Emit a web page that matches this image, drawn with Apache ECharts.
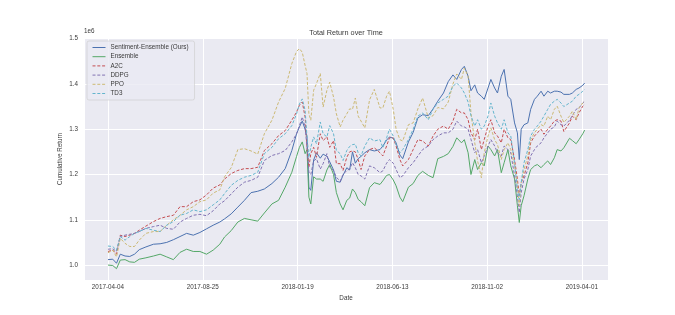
<!DOCTYPE html>
<html>
<head>
<meta charset="utf-8">
<script src="https://cdn.jsdelivr.net/npm/echarts@6/dist/echarts.min.js"></script>
<style>
html,body{margin:0;padding:0;background:#fff;}
#chart{width:675px;height:315px;}
</style>
</head>
<body>
<div id="chart"></div>
<script>
// trading-day index of each sampled point
const days = [
0,5,9,13,18,23,28,33,40,48,
55,62,69,76,83,90,97,104,111,118,
123,130,137,144,151,158,165,173,180,187,
194,199,202,205,208,210,212,214,217,220,
224,227,231,234,238,241,245,248,252,255,
258,261,264,267,271,276,281,287,290,294,
297,301,304,308,311,317,322,327,332,338,
343,348,354,359,364,368,373,376,380,383,
387,390,394,397,401,404,408,411,415,418,
422,425,429,432,434,436,439,443,446,450,
453,457,460,464,467,471,474,478,481,487,
490,494,497,501,503];

const tickLabels = ['2017-04-04','2017-08-25','2018-01-19','2018-06-13','2018-11-02','2019-04-01'];

// cumulative return values (x 1e6)
const sentimentEnsemble = [
1.012,1.013,1.004,1.024,1.020,1.019,1.024,1.034,1.040,1.046,
1.047,1.050,1.056,1.063,1.070,1.066,1.072,1.080,1.088,1.095,
1.102,1.113,1.128,1.143,1.160,1.163,1.168,1.180,1.194,1.213,
1.253,1.290,1.305,1.318,1.300,1.283,1.172,1.165,1.232,1.248,
1.236,1.245,1.240,1.228,1.210,1.185,1.183,1.198,1.215,1.210,
1.250,1.225,1.235,1.240,1.248,1.255,1.252,1.255,1.263,1.276,
1.283,1.280,1.270,1.243,1.235,1.272,1.293,1.325,1.332,1.330,
1.345,1.362,1.380,1.405,1.420,1.410,1.432,1.439,1.417,1.385,
1.398,1.380,1.373,1.366,1.391,1.410,1.391,1.380,1.417,1.432,
1.373,1.366,1.314,1.292,1.233,1.300,1.310,1.314,1.344,1.366,
1.373,1.384,1.373,1.384,1.380,1.384,1.384,1.382,1.377,1.377,
1.380,1.388,1.391,1.397,1.402];

const ensemble = [
1.000,0.999,0.992,1.011,1.012,1.007,1.006,1.013,1.016,1.020,
1.024,1.018,1.012,1.028,1.035,1.030,1.030,1.024,1.033,1.046,
1.062,1.076,1.095,1.103,1.100,1.097,1.115,1.135,1.143,1.172,
1.205,1.240,1.260,1.272,1.246,1.255,1.150,1.135,1.195,1.190,
1.190,1.185,1.210,1.222,1.200,1.160,1.135,1.122,1.143,1.148,
1.168,1.160,1.145,1.140,1.131,1.171,1.182,1.178,1.186,1.198,
1.200,1.188,1.175,1.150,1.140,1.172,1.180,1.198,1.207,1.198,
1.193,1.235,1.240,1.246,1.262,1.281,1.270,1.277,1.248,1.200,
1.233,1.211,1.226,1.219,1.263,1.255,1.241,1.255,1.204,1.226,
1.255,1.219,1.190,1.131,1.094,1.131,1.153,1.190,1.211,1.219,
1.222,1.215,1.222,1.230,1.222,1.237,1.255,1.252,1.259,1.280,
1.275,1.268,1.277,1.290,1.298];

const a2c = [
1.030,1.033,1.024,1.066,1.063,1.066,1.070,1.077,1.086,1.096,
1.103,1.107,1.110,1.129,1.129,1.140,1.144,1.155,1.170,1.177,
1.190,1.202,1.209,1.213,1.213,1.216,1.253,1.268,1.286,1.297,
1.320,1.338,1.353,1.360,1.327,1.260,1.216,1.246,1.260,1.238,
1.290,1.275,1.283,1.260,1.275,1.224,1.224,1.209,1.238,1.250,
1.252,1.250,1.233,1.211,1.241,1.255,1.259,1.248,1.241,1.263,
1.281,1.281,1.263,1.233,1.219,1.233,1.255,1.277,1.274,1.263,
1.285,1.300,1.307,1.300,1.318,1.344,1.336,1.336,1.321,1.292,
1.277,1.300,1.255,1.277,1.307,1.321,1.292,1.285,1.270,1.300,
1.281,1.277,1.233,1.190,1.153,1.182,1.197,1.226,1.270,1.285,
1.292,1.300,1.289,1.300,1.307,1.318,1.321,1.318,1.295,1.314,
1.329,1.321,1.336,1.351,1.355];

const ddpg = [
1.035,1.036,1.030,1.063,1.066,1.068,1.070,1.074,1.081,1.085,
1.088,1.081,1.079,1.095,1.103,1.110,1.112,1.109,1.120,1.135,
1.142,1.157,1.172,1.183,1.187,1.194,1.231,1.242,1.246,1.253,
1.272,1.290,1.308,1.327,1.305,1.260,1.205,1.200,1.230,1.235,
1.212,1.224,1.246,1.216,1.209,1.194,1.185,1.200,1.209,1.212,
1.226,1.215,1.200,1.197,1.190,1.219,1.215,1.204,1.208,1.225,
1.233,1.225,1.211,1.193,1.197,1.215,1.226,1.241,1.255,1.263,
1.277,1.285,1.292,1.292,1.300,1.318,1.307,1.305,1.300,1.278,
1.248,1.255,1.226,1.241,1.263,1.277,1.263,1.248,1.241,1.263,
1.255,1.248,1.197,1.153,1.116,1.160,1.190,1.211,1.241,1.255,
1.263,1.270,1.281,1.292,1.300,1.305,1.318,1.310,1.307,1.320,
1.330,1.344,1.347,1.358,1.362];

const ppo = [
1.027,1.033,1.018,1.059,1.048,1.041,1.041,1.055,1.070,1.074,
1.074,1.088,1.100,1.110,1.122,1.129,1.140,1.144,1.159,1.166,
1.195,1.215,1.255,1.257,1.252,1.245,1.290,1.320,1.360,1.390,
1.445,1.472,1.478,1.470,1.441,1.423,1.334,1.320,1.386,1.401,
1.423,1.349,1.386,1.404,1.371,1.334,1.305,1.320,1.334,1.345,
1.344,1.369,1.329,1.318,1.303,1.365,1.388,1.347,1.347,1.373,
1.384,1.344,1.300,1.277,1.274,1.310,1.314,1.345,1.369,1.325,
1.330,1.348,1.345,1.360,1.400,1.422,1.410,1.435,1.417,1.336,
1.270,1.230,1.193,1.248,1.285,1.303,1.277,1.266,1.233,1.255,
1.270,1.255,1.219,1.175,1.131,1.182,1.211,1.241,1.277,1.292,
1.300,1.310,1.307,1.329,1.321,1.344,1.351,1.329,1.315,1.329,
1.340,1.321,1.347,1.358,1.362];

const td3 = [
1.042,1.041,1.033,1.063,1.055,1.063,1.070,1.074,1.081,1.077,
1.074,1.088,1.096,1.110,1.114,1.122,1.118,1.122,1.133,1.144,
1.158,1.176,1.187,1.194,1.198,1.205,1.246,1.260,1.279,1.290,
1.308,1.334,1.356,1.367,1.342,1.283,1.238,1.260,1.283,1.268,
1.316,1.290,1.283,1.308,1.290,1.253,1.246,1.231,1.253,1.262,
1.266,1.267,1.248,1.241,1.263,1.281,1.274,1.277,1.259,1.281,
1.300,1.285,1.266,1.248,1.255,1.277,1.300,1.329,1.336,1.321,
1.344,1.358,1.366,1.373,1.395,1.402,1.391,1.380,1.360,1.330,
1.307,1.321,1.300,1.307,1.329,1.358,1.329,1.314,1.300,1.321,
1.292,1.285,1.226,1.167,1.145,1.182,1.226,1.255,1.285,1.300,
1.307,1.318,1.329,1.344,1.355,1.362,1.366,1.358,1.350,1.358,
1.362,1.373,1.377,1.384,1.388];

const seriesNames = ['Sentiment-Ensemble (Ours)','Ensemble','A2C','DDPG','PPO','TD3'];
const seriesValues = [sentimentEnsemble, ensemble, a2c, ddpg, ppo, td3];
const seriesColors = ['#4C72B0','#55A868','#C44E52','#8172B2','#CCB974','#64B5CD'];
const seriesDashed = [false,false,true,true,true,true];

const FONT = 'Liberation Sans, Arial, sans-serif';
const TXT = '#3a3a3a';

const chart = echarts.init(document.getElementById('chart'), null, {renderer:'canvas'});
chart.setOption({
  animation: false,
  backgroundColor: '#ffffff',
  textStyle: {fontFamily: FONT},
  graphic: [{
    type: 'text', left: 84, top: 28,
    style: {text: '1e6', fontSize: 6.3, fill: TXT, fontFamily: FONT}
  }, {
    type: 'text', x: 346, y: 33,
    style: {text: 'Total Return over Time', fontSize: 7.3, fill: TXT, fontFamily: FONT,
            textAlign: 'center', textVerticalAlign: 'middle'}
  }],
  grid: {
    left: 84, right: 67, top: 38, bottom: 35,
    show: true, backgroundColor: '#EAEAF2', borderWidth: 0
  },
  legend: {
    orient: 'vertical', left: 87, top: 41,
    padding: [3, 6, 3, 5],
    itemWidth: 13, itemHeight: 7, itemGap: 2.2,
    backgroundColor: 'rgba(234,234,242,0.8)',
    borderColor: 'rgba(204,204,204,0.8)', borderWidth: 0.8, borderRadius: 2,
    itemStyle: {opacity: 0, borderWidth: 0},
    lineStyle: {width: 1},
    textStyle: {fontSize: 6.3, color: TXT, fontFamily: FONT, lineHeight: 7},
    data: seriesNames
  },
  xAxis: {
    type: 'value', min: -25.3, max: 527.6,
    name: 'Date', nameLocation: 'middle', nameGap: 15, nameMoveOverlap: false,
    nameTextStyle: {fontSize: 6.3, color: TXT, fontFamily: FONT},
    axisLine: {show: false}, axisTick: {show: false},
    axisLabel: {
      fontSize: 6.3, color: TXT, fontFamily: FONT, margin: 4,
      showMinLabel: false, showMaxLabel: false,
      formatter: v => (Math.abs(v % 100) < 1e-6 && v >= 0 ? (tickLabels[Math.round(v / 100)] || '') : '')
    },
    splitLine: {show: true, lineStyle: {color: '#ffffff', width: 1}}
  },
  yAxis: {
    type: 'value', min: 0.967, max: 1.5015,
    name: 'Cumulative Return', nameLocation: 'middle', nameGap: 21, nameMoveOverlap: false,
    nameTextStyle: {fontSize: 6.3, color: TXT, fontFamily: FONT},
    axisLine: {show: false}, axisTick: {show: false},
    axisLabel: {
      fontSize: 6.3, color: TXT, fontFamily: FONT, margin: 6,
      showMinLabel: false, showMaxLabel: false,
      formatter: v => v.toFixed(1)
    },
    splitLine: {show: true, lineStyle: {color: '#ffffff', width: 1}}
  },
  series: seriesNames.map((name, k) => ({
    name: name,
    type: 'line',
    showSymbol: false, symbol: 'none',
    data: days.map((d, i) => [d, seriesValues[k][i]]),
    lineStyle: {color: seriesColors[k], width: 1, type: seriesDashed[k] ? [3, 1.8] : 'solid'},
    itemStyle: {color: seriesColors[k]}
  }))
});
</script>
</body>
</html>
